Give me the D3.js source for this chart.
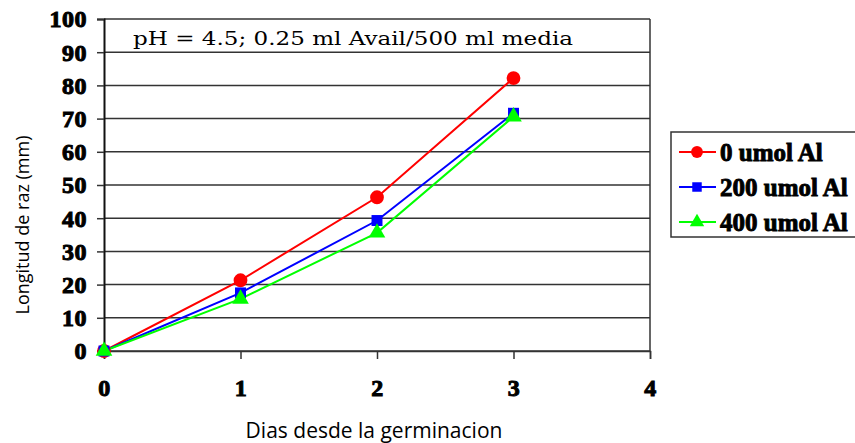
<!DOCTYPE html>
<html>
<head>
<meta charset="utf-8">
<script src="https://cdn.jsdelivr.net/npm/d3@7"></script>
<style>
  body { margin: 0; background: #fff; }
</style>
</head>
<body>
<svg width="855" height="443"></svg>
<script>
var days = [0, 1, 2, 3];
var xTicks = [0, 1, 2, 3, 4];
var yTicks = [0, 10, 20, 30, 40, 50, 60, 70, 80, 90, 100];
var seriesNames = ["0 umol Al", "200 umol Al", "400 umol Al"];
var al0 = [0, 21.3, 46.3, 82.2];
var al200 = [0, 17.5, 39.3, 71.6];
var al400 = [0, 15.7, 35.6, 70.6];
var colors = ["#ff0000", "#0000ff", "#00ff00"];
var shapes = [d3.symbolCircle, d3.symbolSquare, d3.symbolTriangle];

var svg = d3.select("svg"),
    margin = {top: 19, right: 205, bottom: 92, left: 104},
    width = +svg.attr("width") - margin.left - margin.right,
    height = +svg.attr("height") - margin.top - margin.bottom;

var x = d3.scaleLinear().domain([0, 4]).range([0, width]),
    y = d3.scaleLinear().domain([0, 100]).range([height, 0]);

var g = svg.append("g")
    .attr("transform", "translate(" + margin.left + "," + margin.top + ")");

// horizontal gridlines
g.selectAll(".grid")
  .data(yTicks)
  .enter().append("line")
    .attr("x1", 0).attr("x2", width)
    .attr("y1", function(d) { return y(d); })
    .attr("y2", function(d) { return y(d); })
    .attr("stroke", "#333").attr("stroke-width", 1.5);

// right border
g.append("line")
    .attr("x1", width).attr("x2", width)
    .attr("y1", 0).attr("y2", height)
    .attr("stroke", "#333").attr("stroke-width", 1.5);

function boldTicks(sel) {
  sel.attr("font-family", "Times New Roman, Liberation Serif, serif")
     .attr("font-size", 24)
     .attr("font-weight", "bold");
  sel.selectAll(".tick text")
     .attr("fill", "#000").attr("stroke", "#000").attr("stroke-width", 1)
     .attr("letter-spacing", 0.5);
}

var xAxis = g.append("g")
    .attr("transform", "translate(0," + height + ")")
    .call(d3.axisBottom(x).tickValues(xTicks).tickFormat(d3.format("d")).tickSize(8).tickPadding(20))
    .call(boldTicks);
xAxis.select(".domain").attr("stroke", "#333").attr("stroke-width", 1.5);
xAxis.selectAll(".tick line").attr("stroke", "#333").attr("stroke-width", 1.5);

var yAxis = g.append("g")
    .call(d3.axisLeft(y).tickValues(yTicks).tickSize(7).tickPadding(10))
    .call(boldTicks);
yAxis.select(".domain").attr("stroke", "#111").attr("stroke-width", 2);
yAxis.selectAll(".tick line").attr("stroke", "#333").attr("stroke-width", 1.5);
yAxis.selectAll(".tick text").attr("dy", "0.33em");

// annotation
g.append("text")
    .attr("x", 29).attr("y", 26)
    .attr("font-family", "DejaVu Serif, serif")
    .attr("font-size", "18px")
    .attr("textLength", 440)
    .attr("lengthAdjust", "spacingAndGlyphs")
    .text("pH = 4.5; 0.25 ml Avail/500 ml media");

var data = [al0, al200, al400];
var line = d3.line()
    .x(function(d, i) { return x(days[i]); })
    .y(function(d) { return y(d); });

data.forEach(function(vals, k) {
  g.append("path")
      .datum(vals)
      .attr("fill", "none")
      .attr("stroke", colors[k])
      .attr("stroke-width", 2)
      .attr("d", line);
});
data.forEach(function(vals, k) {
  g.selectAll(".m" + k)
    .data(vals)
    .enter().append("path")
      .attr("transform", function(d, i) { return "translate(" + x(days[i]) + "," + y(d) + ")"; })
      .attr("d", d3.symbol().type(shapes[k]).size(k == 0 ? 150 : 120))
      .attr("fill", colors[k]);
});

// axis titles
svg.append("text")
    .attr("transform", "translate(29,225) rotate(-90)")
    .attr("text-anchor", "middle")
    .attr("font-family", "Open Sans, sans-serif")
    .attr("font-size", "18px")
    .text("Longitud de raz (mm)");

svg.append("text")
    .attr("x", 374).attr("y", 438)
    .attr("text-anchor", "middle")
    .attr("font-family", "Open Sans, sans-serif")
    .attr("font-size", "21px")
    .text("Dias desde la germinacion");

// legend
var lg = svg.append("g").attr("transform", "translate(671,132)");
lg.append("rect")
    .attr("width", 190).attr("height", 105)
    .attr("fill", "#fff").attr("stroke", "#333").attr("stroke-width", 1.5);
seriesNames.forEach(function(name, k) {
  var yy = 20 + k * 35;
  lg.append("line")
      .attr("x1", 8).attr("x2", 45).attr("y1", yy).attr("y2", yy)
      .attr("stroke", colors[k]).attr("stroke-width", 2);
  lg.append("path")
      .attr("transform", "translate(26," + yy + ")")
      .attr("d", d3.symbol().type(shapes[k]).size(k == 0 ? 110 : 90))
      .attr("fill", colors[k]);
  lg.append("text")
      .attr("x", 49).attr("y", yy).attr("dy", "0.35em")
      .attr("font-family", "Times New Roman, Liberation Serif, serif")
      .attr("font-weight", "bold")
      .attr("font-size", "25px")
      .attr("stroke", "#000").attr("stroke-width", 0.9)
      .text(name);
});
</script>
</body>
</html>
